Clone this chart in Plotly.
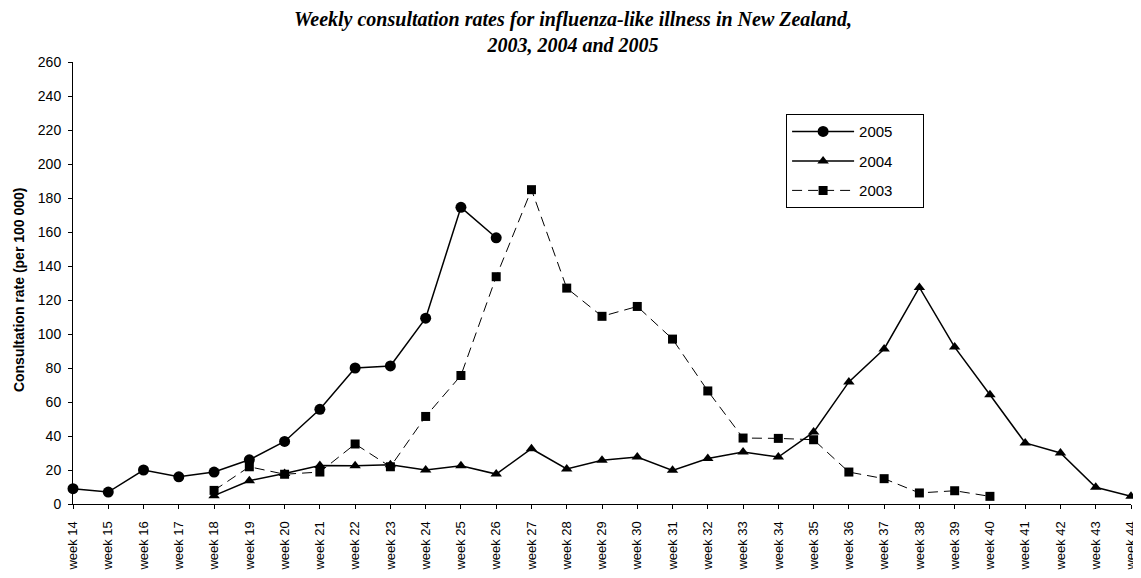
import plotly.graph_objects as go

weeks = list(range(14, 45))
week_labels = [f"week {w}" for w in weeks]

weeks_2005 = list(range(14, 27))
rate_2005 = [9.0, 7.0, 20.0, 16.0, 18.8, 26.0, 36.8, 55.7, 80.0, 81.2, 109.3, 174.5, 156.6]

weeks_2004 = list(range(18, 45))
rate_2004 = [4.9, 13.7, 18.0, 22.7, 22.5, 23.1, 20.0, 22.5, 17.6, 32.5, 20.6, 25.7, 27.6,
             19.8, 26.8, 30.6, 27.6, 42.3, 71.8, 91.2, 127.4, 92.3, 64.3, 35.9, 30.0, 9.8, 4.5]

weeks_2003 = list(range(18, 41))
rate_2003 = [8.0, 21.9, 17.5, 18.8, 35.3, 21.9, 51.5, 75.6, 133.7, 184.9, 127.0, 110.4, 116.2,
             97.0, 66.5, 38.8, 38.6, 37.8, 18.8, 14.9, 6.5, 7.8, 4.5]

y_ticks = list(range(0, 261, 20))

NB = "\u00a0" * 6

fig = go.Figure()
fig.add_trace(go.Scatter(
    x=weeks_2005, y=rate_2005, name="2005" + NB, mode="lines+markers",
    line=dict(color="black", width=1.5),
    marker=dict(symbol="circle", size=11, color="black"),
    cliponaxis=False, legendgroup="a"))
fig.add_trace(go.Scatter(
    x=weeks_2004, y=rate_2004, name="2004" + NB, mode="lines+markers",
    line=dict(color="black", width=1.5),
    marker=dict(symbol="triangle-up", size=10, color="black"),
    cliponaxis=False, legendgroup="b"))
fig.add_trace(go.Scatter(
    x=weeks_2003, y=rate_2003, name="2003" + NB, mode="lines+markers",
    line=dict(color="black", width=1, dash="10px,6px"),
    marker=dict(symbol="square", size=9, color="black"),
    cliponaxis=False, legendgroup="c"))

fig.update_layout(
    width=1133, height=570,
    template="none",
    paper_bgcolor="white", plot_bgcolor="white",
    margin=dict(l=65, r=10, t=54, b=74, autoexpand=False),
    font=dict(family="Liberation Sans, Arial, sans-serif", size=14, color="black"),
    showlegend=True,
    legend=dict(
        x=0.674, xanchor="left", y=0.882, yanchor="top",
        bordercolor="black", borderwidth=1, bgcolor="white",
        font=dict(size=15), tracegroupgap=7, traceorder="grouped",
        itemwidth=62),
    xaxis=dict(
        range=[14, 44], tickmode="array", tickvals=weeks, ticktext=week_labels,
        tickangle=-90, ticks="outside", ticklen=4, tickcolor="black",
        ticklabelstandoff=7,
        showline=True, linecolor="black", linewidth=1, showgrid=False, zeroline=False,
        tickfont=dict(size=13), automargin=False),
    yaxis=dict(
        range=[0, 260], tickmode="array", tickvals=y_ticks,
        ticks="outside", ticklen=4, tickcolor="black",
        ticklabelstandoff=4,
        showline=True, linecolor="black", linewidth=1, showgrid=False, zeroline=False,
        tickfont=dict(size=14), automargin=False),
    annotations=[
        dict(text="<b><i>Weekly consultation rates for influenza-like illness in New Zealand,<br>2003, 2004 and 2005</i></b>",
             xref="paper", yref="paper", x=0.473, y=1.069, xanchor="center", yanchor="middle",
             showarrow=False,
             font=dict(family="Liberation Serif, Times New Roman, serif", size=20, color="black")),
        dict(text="<b>Consultation rate (per 100 000)</b>", textangle=-90,
             xref="paper", yref="paper", x=-0.051, y=0.484, xanchor="center", yanchor="middle",
             showarrow=False, font=dict(size=14, color="black")),
    ],
)

fig.write_html("out.html")
